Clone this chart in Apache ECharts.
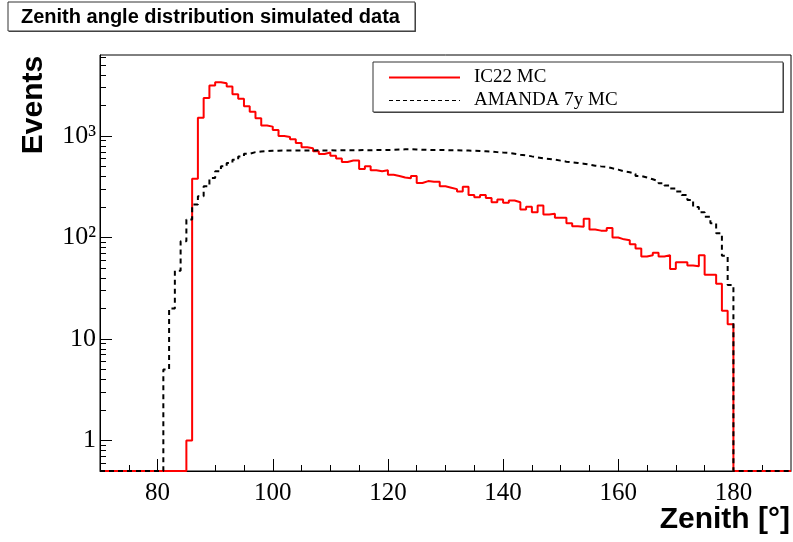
<!DOCTYPE html>
<html><head><meta charset="utf-8">
<script src="https://cdn.jsdelivr.net/npm/echarts@6/dist/echarts.min.js"></script>
<style>html,body{margin:0;padding:0;background:#fff}#c{width:793px;height:542px}</style>
</head><body><div id="c"></div>
<script>
// Histogram range (degrees) and bin width
const xMin = 70, xMax = 190, binWidth = 1;
const yMin = 0.5, yMax = 6300;

// IC22 MC counts, first bin starts at 85 deg
const ic22Start = 85;
const ic22Counts = [
  1, 380, 1520, 2370, 3150, 3400, 3320, 3090, 2590, 2330,
  1970, 1740, 1500, 1270, 1240, 1150, 1000, 980, 930, 855,
  775, 760, 708, 665, 690, 640, 600, 555, 575, 575,
  474, 503, 460, 450, 460, 415, 405, 390, 385, 405,
  345, 360, 355, 355, 320, 310, 300, 285, 316, 262,
  250, 262, 245, 223, 237, 220, 232, 223, 189, 201,
  178, 207, 169, 172, 157, 157, 138, 129, 128, 153,
  120, 117, 117, 124, 100, 96, 94, 86, 78, 65,
  67, 71, 65, 67, 49, 57, 57, 53, 52, 67,
  43, 43, 35, 19, 14
];

// AMANDA 7y MC counts, first bin starts at 81 deg
const amandaStart = 81;
const amandaCounts = [
  5, 20, 47, 92, 151, 212, 255, 320, 387, 450,
  504, 544, 586, 631, 670, 695, 705, 712, 716, 718,
  720, 720, 722, 720, 722, 720, 724, 722, 724, 722,
  724, 726, 724, 726, 728, 726, 728, 728, 730, 732,
  736, 740, 742, 738, 734, 732, 730, 730, 728, 726,
  724, 722, 720, 718, 714, 710, 705, 695, 688, 682,
  671, 656, 646, 631, 617, 603, 595, 586, 573, 560,
  552, 544, 535, 523, 511, 503, 496, 481, 467, 450,
  440, 425, 405, 390, 375, 360, 342, 325, 305, 285,
  262, 235, 200, 178, 160, 138, 110, 66, 34
];

const xLabelValues = [80, 100, 120, 140, 160, 180];
const xMinorTicks = [75, 85, 90, 95, 105, 110, 115, 125, 130, 135, 145, 150, 155, 165, 170, 175, 185];
const yLabelValues = [1, 10, 100, 1000];
const yMinorTicks = [0.6, 0.7, 0.8, 0.9, 2, 3, 4, 5, 6, 7, 8, 9,
  20, 30, 40, 50, 60, 70, 80, 90, 200, 300, 400, 500, 600, 700, 800, 900,
  2000, 3000, 4000, 5000, 6000];

function histPoints(start, counts) {
  const pts = [];
  const n = Math.round((xMax - xMin) / binWidth);
  for (let i = 0; i < n; i++) {
    const lo = xMin + i * binWidth;
    const idx = Math.round((lo - start) / binWidth);
    const v = (idx >= 0 && idx < counts.length) ? counts[idx] : 0;
    pts.push([lo, v > 0 ? v : yMin]);
  }
  pts.push([xMax, pts[pts.length - 1][1]]);
  return pts;
}

const sup = {2: '\u00b2', 3: '\u00b3'};
const serif = 'Liberation Serif';

const chart = echarts.init(document.getElementById('c'), null, {renderer: 'canvas'});
chart.setOption({
  animation: false,
  backgroundColor: '#fff',
  grid: {left: 100, right: 2, top: 55, bottom: 71, show: true, borderColor: '#000', borderWidth: 1, backgroundColor: 'transparent'},
  xAxis: [{
    type: 'value', min: xMin, max: xMax, position: 'bottom',
    axisLine: {show: true, lineStyle: {color: '#000', width: 1}},
    axisTick: {show: true, inside: true, length: 12, customValues: xLabelValues, lineStyle: {color: '#000'}},
    axisLabel: {show: true, customValues: xLabelValues, margin: 10, fontFamily: serif, fontSize: 25, color: '#000'},
    splitLine: {show: false}
  }, {
    type: 'value', min: xMin, max: xMax, position: 'bottom',
    axisLine: {show: false},
    axisTick: {show: true, inside: true, length: 6, customValues: xMinorTicks, lineStyle: {color: '#000'}},
    axisLabel: {show: false},
    splitLine: {show: false}
  }],
  yAxis: [{
    type: 'log', logBase: 10, min: yMin, max: yMax, position: 'left',
    axisLine: {show: true, lineStyle: {color: '#000', width: 1}},
    axisTick: {show: true, inside: true, length: 12, customValues: yLabelValues, lineStyle: {color: '#000'}},
    axisLabel: {show: true, customValues: yLabelValues, margin: 4, fontFamily: serif, fontSize: 26, color: '#000',
      formatter: function (v) {
        const e = Math.round(Math.log10(v));
        if (e <= 1) return String(Math.round(v));
        return '10' + sup[e];
      }},
    splitLine: {show: false}
  }, {
    type: 'log', logBase: 10, min: yMin, max: yMax, position: 'left',
    axisLine: {show: false},
    axisTick: {show: true, inside: true, length: 6, customValues: yMinorTicks, lineStyle: {color: '#000'}},
    axisLabel: {show: false},
    splitLine: {show: false}
  }],
  legend: {
    orient: 'vertical', left: 383, top: 63, itemWidth: 71, itemHeight: 14, itemGap: 4,
    itemStyle: {color: 'rgba(0,0,0,0)', borderWidth: 0, opacity: 0},
    textStyle: {fontFamily: serif, fontSize: 19, color: '#000', padding: [0, 0, 0, 9]},
    data: [
      {name: 'IC22 MC', lineStyle: {width: 2, color: '#ff0000', type: 'solid'}},
      {name: 'AMANDA 7y MC', lineStyle: {width: 1, color: '#000', type: [4, 3]}}
    ]
  },
  series: [{
    name: 'IC22 MC', type: 'line', step: 'end', symbol: 'none', showSymbol: false,
    xAxisIndex: 0, yAxisIndex: 0, clip: true,
    lineStyle: {color: '#ff0000', width: 2}, itemStyle: {color: '#ff0000'},
    data: histPoints(ic22Start, ic22Counts)
  }, {
    name: 'AMANDA 7y MC', type: 'line', step: 'end', symbol: 'none', showSymbol: false,
    xAxisIndex: 0, yAxisIndex: 0, clip: true,
    lineStyle: {color: '#000', width: 2, type: [5, 4]}, itemStyle: {color: '#000'},
    data: histPoints(amandaStart, amandaCounts)
  }],
  graphic: [
    {type: 'rect', z: 0, shape: {x: 9, y: 3, width: 407, height: 29}, style: {fill: '#555'}},
    {type: 'rect', z: 1, shape: {x: 8, y: 2, width: 407, height: 29}, style: {fill: '#fff', stroke: '#333', lineWidth: 1}},
    {type: 'text', z: 2, x: 21, y: 17, style: {text: 'Zenith angle distribution simulated data', font: 'bold 20px "Liberation Sans"', fill: '#000', textVerticalAlign: 'middle'}},
    {type: 'rect', z: 0, shape: {x: 374, y: 63, width: 410, height: 50}, style: {fill: '#555'}},
    {type: 'rect', z: 1, shape: {x: 373, y: 62, width: 410, height: 50}, style: {fill: '#fff', stroke: '#333', lineWidth: 1}},
    {type: 'text', x: 34, y: 105, rotation: Math.PI / 2, style: {text: 'Events', font: 'bold 30px "Liberation Sans"', fill: '#000', textAlign: 'center', textVerticalAlign: 'middle'}},
    {type: 'text', x: 790, y: 520, style: {text: 'Zenith [\u00b0]', font: 'bold 30px "Liberation Sans"', fill: '#000', textAlign: 'right', textVerticalAlign: 'middle'}}
  ]
});
</script>
</body></html>
